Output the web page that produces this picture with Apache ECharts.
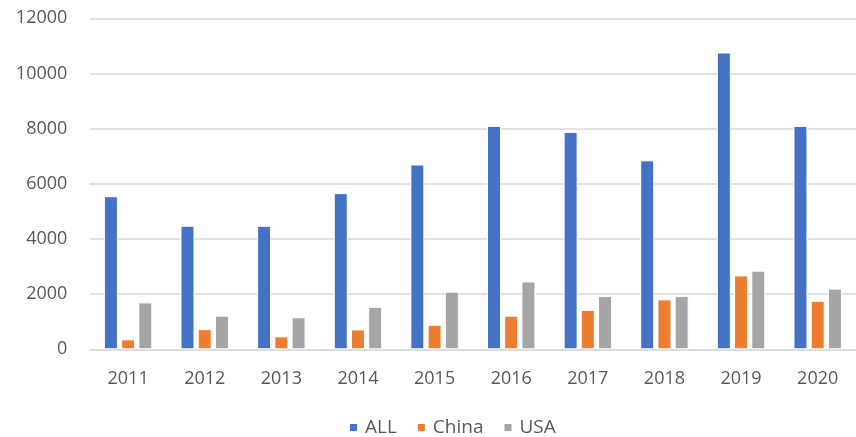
<!DOCTYPE html>
<html>
<head>
<meta charset="utf-8">
<script src="https://cdn.jsdelivr.net/npm/echarts@6/dist/echarts.min.js"></script>
<style>
  html, body { margin: 0; padding: 0; background: #fff; }
  #chart { width: 856px; height: 437px; }
</style>
</head>
<body>
<div id="chart"></div>
<script>
// Yearly counts: all countries, China and USA
const years = ['2011', '2012', '2013', '2014', '2015', '2016', '2017', '2018', '2019', '2020'];
const allValues   = [5550, 4480, 4480, 5660, 6700, 8100, 7880, 6850, 10760, 8100];
const chinaValues = [360, 730, 470, 720, 890, 1220, 1430, 1810, 2680, 1760];
const usaValues   = [1700, 1220, 1160, 1540, 2090, 2460, 1930, 1930, 2850, 2200];
const seriesNames = ['ALL', 'China', 'USA'];
const seriesColors = ['#4472C4', '#ED7D31', '#A5A5A5'];

const textColor = '#595959';
const fontFamily = '"Open Sans", "Noto Sans", sans-serif';

const chart = echarts.init(document.getElementById('chart'), null, { renderer: 'canvas' });

const makeBar = (name, data, color) => ({
  name: name,
  type: 'bar',
  data: data,
  barWidth: 14,
  barGap: '23%',
  itemStyle: { color: color, borderColor: '#ffffff', borderWidth: 1 },
  emphasis: { disabled: true }
});

chart.setOption({
  animation: false,
  textStyle: { fontFamily: fontFamily },
  // plot area runs slightly past the right edge of the canvas
  grid: { left: 89.8, right: -7.8, top: 18.3, bottom: 87.7, containLabel: false },
  legend: {
    data: seriesNames,
    top: 413,
    left: 343,
    icon: 'rect',
    itemWidth: 9,
    itemHeight: 9,
    itemGap: 19,
    textStyle: { color: textColor, fontSize: 19, fontFamily: fontFamily, padding: [0, 0, 0, 2] }
  },
  xAxis: {
    type: 'category',
    data: years,
    axisLine: { show: true, lineStyle: { color: '#D9D9D9', width: 1.5 } },
    axisTick: { show: false },
    axisLabel: { color: textColor, fontSize: 18, margin: 21, fontFamily: fontFamily }
  },
  yAxis: {
    type: 'value',
    min: 0,
    max: 12000,
    interval: 2000,
    axisLine: { show: false },
    axisTick: { show: false },
    axisLabel: {
      color: textColor,
      fontSize: 18,
      margin: 22.5,
      fontFamily: fontFamily,
      formatter: (v) => String(v)
    },
    splitLine: { lineStyle: { color: '#D9D9D9', width: 1.5 } }
  },
  series: [
    makeBar(seriesNames[0], allValues, seriesColors[0]),
    makeBar(seriesNames[1], chinaValues, seriesColors[1]),
    makeBar(seriesNames[2], usaValues, seriesColors[2])
  ]
});
</script>
</body>
</html>
